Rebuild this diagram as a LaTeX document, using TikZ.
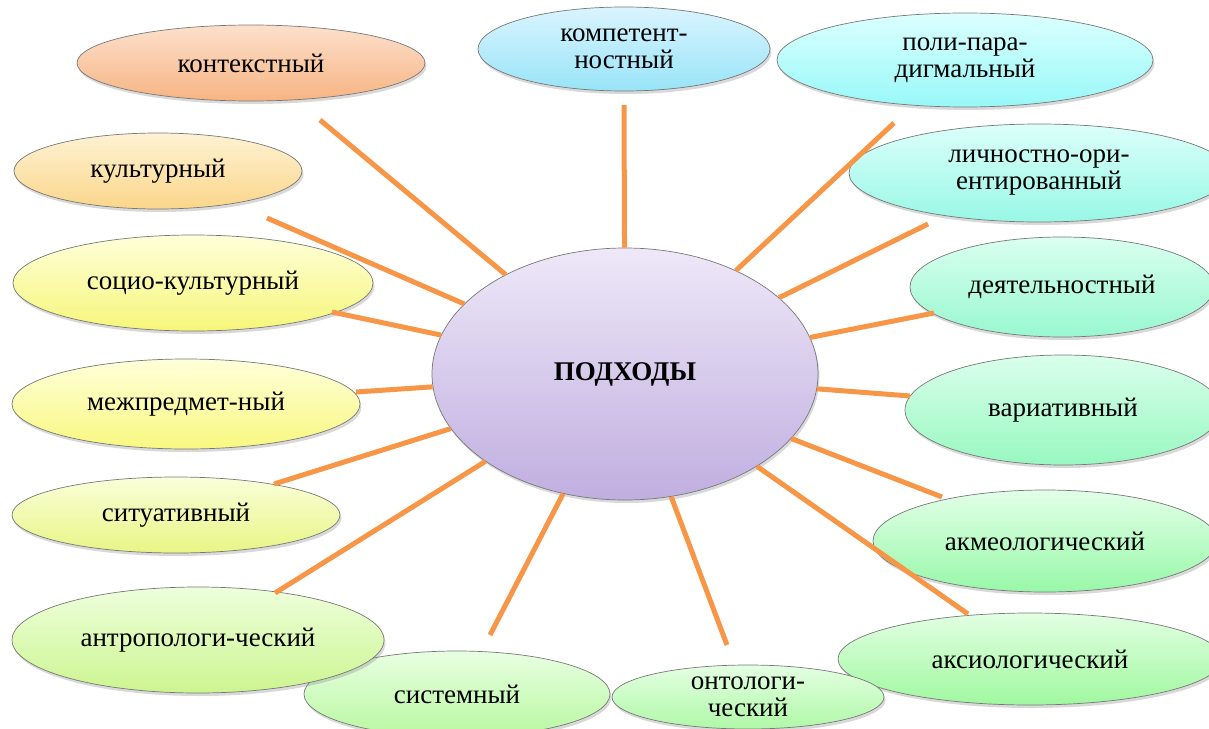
\documentclass[tikz,border=0pt]{standalone}
\usepackage{fontspec}
\setmainfont{Liberation Serif}
\usepackage{xcolor}
\usepackage{tikz}
\usetikzlibrary{shapes.geometric, shadows}

\definecolor{spokeorange}{RGB}{247,150,70}
\definecolor{ovalborder}{RGB}{120,120,120}

\begin{document}
\begin{tikzpicture}[x=1pt, y=-1pt,
        oval/.style={ellipse, draw=ovalborder, line width=0.7pt, inner sep=0pt,
                     align=center, font=\fontsize{27}{27}\selectfont,
                     drop shadow={opacity=0.3, shadow xshift=1.5pt, shadow yshift=-3pt}},
        approach/.style n args={4}{oval, minimum width=#1, minimum height=#2,
                     top color=#3, bottom color=#4},
        hubnode/.style={oval, minimum width=386, minimum height=252,
                     top color={rgb,255:red,238;green,232;blue,248},
                     bottom color={rgb,255:red,192;green,174;blue,224},
                     font=\fontsize{27}{27}\selectfont\bfseries},
        spoke/.style={draw=spokeorange, line width=5pt}
      ]
      \useasboundingbox (0,0) rectangle (1209,728);

      % --- Left side ---
      \node (kontekst) [approach={348}{76}{{rgb,255:red,252;green,224;blue,204}}{{rgb,255:red,247;green,180;blue,130}}] at (251,63) {контекстный};
      \node (kultur) [approach={288}{76}{{rgb,255:red,254;green,242;blue,212}}{{rgb,255:red,251;green,214;blue,138}}] at (158,171) {культурный};
      \node (sociokultur) [approach={360}{96}{{rgb,255:red,255;green,255;blue,218}}{{rgb,255:red,246;green,246;blue,122}}] at (193,283) {социо-культурный};
      \node (mezhpredmet) [approach={348}{90}{{rgb,255:red,255;green,255;blue,218}}{{rgb,255:red,248;green,248;blue,128}}] at (186,404) {межпредмет-ный};
      \node (situat) [approach={328}{76}{{rgb,255:red,250;green,255;blue,218}}{{rgb,255:red,232;green,245;blue,132}}] at (176,515) {ситуативный};

      % --- Bottom ---
      \node (sistem) [approach={306}{86}{{rgb,255:red,232;green,255;blue,226}}{{rgb,255:red,184;green,248;blue,160}}] at (457,694) {системный};
      \node (antropolog) [approach={372}{106}{{rgb,255:red,238;green,255;blue,220}}{{rgb,255:red,204;green,245;blue,144}}] at (198,640) {антропологи-ческий};
      \node (aksiolog) [approach={384}{92}{{rgb,255:red,226;green,255;blue,226}}{{rgb,255:red,160;green,248;blue,160}}] at (1030,659) {аксиологический};
      \node (ontolog) [approach={272}{64}{{rgb,255:red,228;green,255;blue,226}}{{rgb,255:red,176;green,248;blue,168}}, inner ysep=-8pt] at (748,697) {онтологи-\\ческий};

      % --- Right side ---
      \node (akmeolog) [approach={344}{102}{{rgb,255:red,226;green,255;blue,232}}{{rgb,255:red,152;green,248;blue,168}}] at (1045,541) {акмеологический};
      \node (variat) [approach={316}{110}{{rgb,255:red,218;green,255;blue,236}}{{rgb,255:red,152;green,248;blue,192}}] at (1063,410) {вариативный};
      \node (deyatel) [approach={304}{100}{{rgb,255:red,218;green,255;blue,240}}{{rgb,255:red,152;green,248;blue,208}}] at (1062,287) {деятельностный};
      \node (lichnost) [approach={380}{98}{{rgb,255:red,220;green,255;blue,250}}{{rgb,255:red,152;green,248;blue,230}}] at (1039,173) {личностно-ори-\\ентированный};
      \node (poliparadigm) [approach={376}{94}{{rgb,255:red,220;green,255;blue,255}}{{rgb,255:red,152;green,248;blue,248}}] at (965,60) {поли-пара-\\дигмальный};
      \node (kompetent) [approach={292}{84}{{rgb,255:red,218;green,244;blue,255}}{{rgb,255:red,152;green,228;blue,248}}] at (624,49) {компетент-\\ностный};

      % --- Centre ---
      \node (hub) [hubnode] at (625,374) {ПОДХОДЫ};

      % --- Free ends of the spokes ---
      \coordinate (kontekst_end) at (320,120);
      \coordinate (kultur_end) at (267,218);
      \coordinate (sociokultur_end) at (332,312);
      \coordinate (mezhpredmet_end) at (356,392);
      \coordinate (situat_end) at (274,484);
      \coordinate (antropolog_end) at (275,593);
      \coordinate (sistem_end) at (490,635);
      \coordinate (ontolog_end) at (727,645);
      \coordinate (aksiolog_end) at (968,614);
      \coordinate (akmeolog_end) at (942,497);
      \coordinate (variat_end) at (910,396);
      \coordinate (deyatel_end) at (934,313);
      \coordinate (lichnost_end) at (928,224);
      \coordinate (poliparadigm_end) at (894,123);
      \coordinate (kompetent_end) at (624,105);

      % Spokes
      \foreach \e in {kontekst, kultur, sociokultur, mezhpredmet, situat, antropolog, sistem,
                      ontolog, aksiolog, akmeolog, variat, deyatel, lichnost, poliparadigm, kompetent}
        \draw [spoke] (hub) -- (\e_end);

    \end{tikzpicture}
\end{document}
